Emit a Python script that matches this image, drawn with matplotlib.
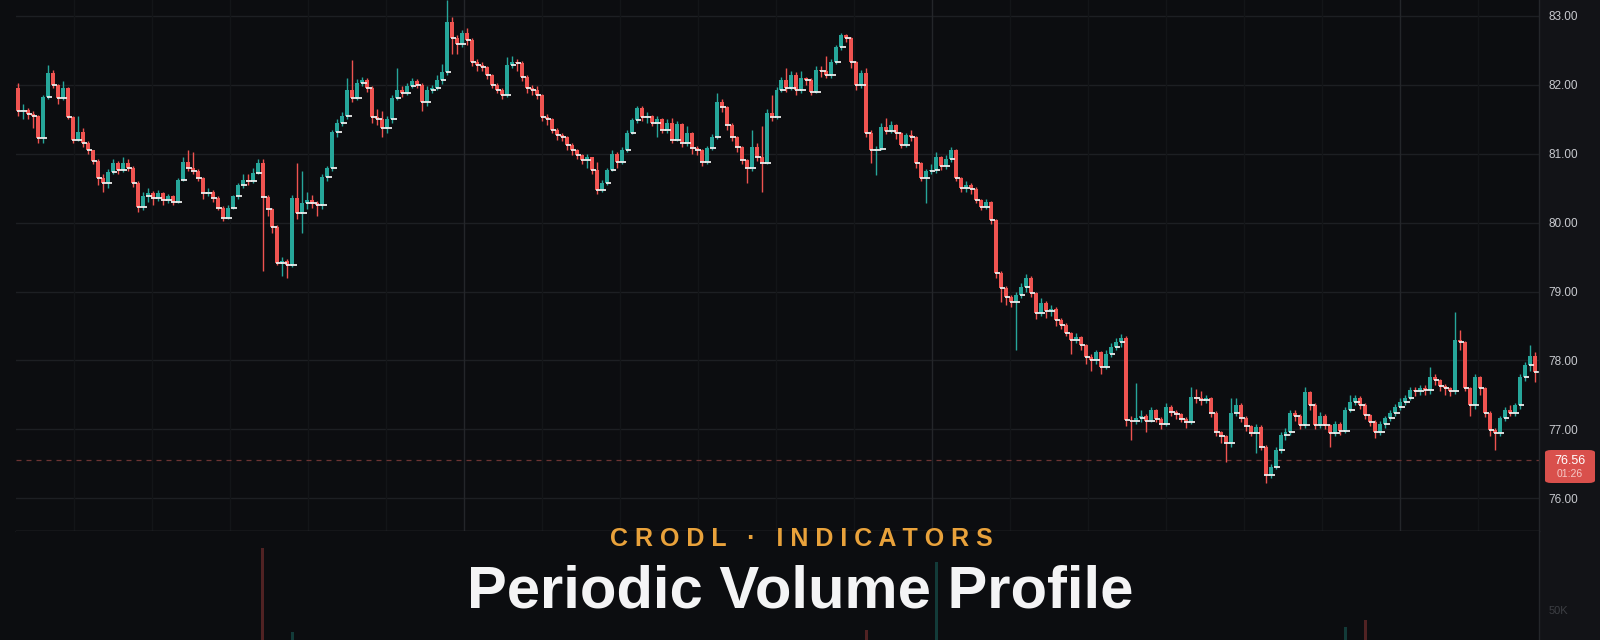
import numpy as np
import matplotlib.pyplot as plt
from matplotlib.patches import FancyBboxPatch, Rectangle
from matplotlib.lines import Line2D

plt.rcParams['font.family'] = ['Liberation Sans', 'DejaVu Sans']

# price data, open of each bar = previous close
first_open = 81.95
closes = [
    81.62, 81.64, 81.58, 81.55, 81.23, 81.83, 82.17, 82.00, 81.81, 81.95,
    81.53, 81.20, 81.32, 81.16, 81.05, 80.90, 80.65, 80.57, 80.74, 80.87,
    80.77, 80.87, 80.80, 80.57, 80.23, 80.38, 80.43, 80.36, 80.43, 80.33,
    80.38, 80.30, 80.62, 80.88, 80.80, 80.75, 80.65, 80.43, 80.45, 80.36,
    80.22, 80.07, 80.22, 80.38, 80.55, 80.62, 80.60, 80.72, 80.87, 80.37,
    80.20, 79.94, 79.42, 79.45, 79.38, 80.36, 80.14, 80.28, 80.33, 80.28,
    80.26, 80.66, 80.79, 81.32, 81.45, 81.55, 81.93, 81.81, 82.03, 82.07,
    81.95, 81.53, 81.50, 81.37, 81.50, 81.81, 81.93, 81.88, 81.99, 82.05,
    82.00, 81.75, 81.92, 81.95, 82.07, 82.19, 82.91, 82.68, 82.60, 82.75,
    82.65, 82.33, 82.29, 82.26, 82.14, 82.00, 81.93, 81.86, 82.29, 82.33,
    82.32, 82.12, 81.95, 81.93, 81.85, 81.53, 81.50, 81.35, 81.27, 81.24,
    81.13, 81.05, 80.98, 80.91, 80.95, 80.77, 80.48, 80.57, 80.77, 81.00,
    80.88, 81.05, 81.30, 81.49, 81.66, 81.53, 81.55, 81.45, 81.50, 81.35,
    81.45, 81.20, 81.43, 81.16, 81.30, 81.08, 81.05, 80.88, 81.08, 81.24,
    81.75, 81.68, 81.42, 81.24, 81.10, 80.91, 80.79, 81.10, 80.95, 80.87,
    81.59, 81.53, 81.93, 82.07, 81.95, 82.15, 81.93, 82.10, 82.07, 81.90,
    82.22, 82.20, 82.15, 82.33, 82.55, 82.72, 82.68, 82.33, 82.00, 82.17,
    81.30, 81.05, 81.07, 81.39, 81.33, 81.42, 81.30, 81.13, 81.27, 81.24,
    80.86, 80.65, 80.75, 80.77, 80.95, 80.82, 80.92, 81.05, 80.65, 80.50,
    80.55, 80.49, 80.33, 80.23, 80.30, 80.04, 79.27, 79.05, 78.92, 78.85,
    78.95, 79.07, 79.20, 78.98, 78.69, 78.84, 78.72, 78.75, 78.59, 78.52,
    78.40, 78.30, 78.34, 78.22, 78.05, 78.00, 78.12, 77.90, 78.10, 78.20,
    78.27, 78.33, 77.13, 77.12, 77.17, 77.20, 77.12, 77.28, 77.15, 77.08,
    77.33, 77.25, 77.22, 77.15, 77.10, 77.47, 77.45, 77.42, 77.45, 77.24,
    76.96, 76.90, 76.80, 77.24, 77.35, 77.17, 77.05, 76.95, 77.03, 76.75,
    76.34, 76.46, 76.70, 76.92, 76.96, 77.24, 77.20, 77.06, 77.54, 77.35,
    77.06, 77.20, 77.06, 76.95, 77.08, 76.98, 77.28, 77.40, 77.46, 77.36,
    77.21, 77.10, 76.96, 77.08, 77.17, 77.24, 77.33, 77.40, 77.46, 77.57,
    77.55, 77.60, 77.57, 77.76, 77.71, 77.63, 77.60, 77.56, 78.30, 78.27,
    77.60, 77.35, 77.76, 77.60, 77.24, 76.99, 76.95, 77.17, 77.28, 77.24,
    77.35, 77.76, 77.93, 78.06, 77.83,
]
highs = [
    82.03, 81.72, 81.66, 81.62, 81.56, 81.86, 82.29, 82.22, 82.02, 82.05,
    81.97, 81.55, 81.55, 81.38, 81.18, 81.05, 80.92, 80.70, 80.78, 80.92,
    80.90, 80.95, 80.92, 80.82, 80.60, 80.45, 80.50, 80.46, 80.48, 80.45,
    80.42, 80.40, 80.65, 80.95, 81.05, 81.02, 80.78, 80.66, 80.50, 80.47,
    80.38, 80.24, 80.25, 80.40, 80.58, 80.70, 80.70, 80.80, 80.93, 80.93,
    80.40, 80.22, 79.96, 79.50, 79.48, 80.40, 80.87, 80.75, 80.45, 80.40,
    80.32, 80.70, 80.82, 81.35, 81.50, 81.60, 82.10, 82.36, 82.08, 82.12,
    82.10, 81.98, 81.65, 81.62, 81.55, 81.85, 82.25, 81.98, 82.03, 82.10,
    82.08, 82.03, 81.98, 82.00, 82.15, 82.30, 83.23, 82.98, 82.72, 82.80,
    82.83, 82.68, 82.38, 82.33, 82.28, 82.16, 82.03, 81.95, 82.40, 82.42,
    82.38, 82.34, 82.15, 82.00, 81.98, 81.87, 81.58, 81.52, 81.38, 81.30,
    81.26, 81.15, 81.07, 81.00, 81.00, 80.96, 80.88, 80.62, 80.80, 81.05,
    81.03, 81.10, 81.35, 81.52, 81.70, 81.70, 81.60, 81.57, 81.55, 81.52,
    81.50, 81.52, 81.47, 81.45, 81.40, 81.32, 81.12, 81.07, 81.12, 81.28,
    81.88, 81.80, 81.70, 81.45, 81.26, 81.12, 80.93, 81.35, 81.15, 81.40,
    81.65, 81.85, 81.97, 82.12, 82.25, 82.20, 82.18, 82.20, 82.12, 82.10,
    82.28, 82.27, 82.42, 82.38, 82.58, 82.75, 82.74, 82.70, 82.35, 82.22,
    82.25, 81.35, 81.12, 81.45, 81.52, 81.48, 81.43, 81.32, 81.30, 81.35,
    81.26, 80.88, 80.78, 80.85, 81.02, 80.97, 80.98, 81.10, 81.07, 80.67,
    80.60, 80.57, 80.52, 80.35, 80.34, 80.32, 80.06, 79.30, 79.08, 78.95,
    79.00, 79.12, 79.25, 79.22, 79.00, 78.90, 78.86, 78.80, 78.77, 78.62,
    78.55, 78.42, 78.40, 78.36, 78.24, 78.10, 78.15, 78.14, 78.15, 78.25,
    78.32, 78.38, 78.35, 77.20, 77.67, 77.28, 77.22, 77.33, 77.30, 77.18,
    77.38, 77.35, 77.28, 77.24, 77.18, 77.62, 77.58, 77.55, 77.50, 77.47,
    77.26, 76.98, 76.92, 77.45, 77.45, 77.38, 77.20, 77.07, 77.08, 77.06,
    76.78, 76.50, 76.74, 76.96, 77.02, 77.28, 77.28, 77.22, 77.62, 77.56,
    77.38, 77.25, 77.23, 77.08, 77.12, 77.10, 77.32, 77.50, 77.50, 77.48,
    77.38, 77.23, 77.13, 77.12, 77.20, 77.28, 77.37, 77.45, 77.50, 77.62,
    77.62, 77.65, 77.64, 77.90, 77.80, 77.73, 77.66, 77.62, 78.70, 78.44,
    78.28, 77.62, 77.80, 77.78, 77.62, 77.26, 77.02, 77.20, 77.32, 77.35,
    77.38, 77.80, 77.98, 78.23, 78.12,
]
lows = [
    81.55, 81.50, 81.50, 81.38, 81.15, 81.15, 81.80, 81.95, 81.72, 81.78,
    81.50, 81.15, 81.18, 81.10, 81.00, 80.85, 80.55, 80.45, 80.50, 80.70,
    80.70, 80.73, 80.75, 80.52, 80.15, 80.18, 80.30, 80.25, 80.32, 80.25,
    80.28, 80.25, 80.28, 80.60, 80.75, 80.70, 80.60, 80.35, 80.38, 80.30,
    80.18, 80.02, 80.05, 80.20, 80.35, 80.50, 80.55, 80.58, 80.70, 79.30,
    80.10, 79.85, 79.38, 79.22, 79.20, 79.35, 80.05, 79.85, 80.20, 80.22,
    80.10, 80.20, 80.60, 80.75, 81.25, 81.40, 81.50, 81.75, 81.78, 81.98,
    81.90, 81.45, 81.42, 81.25, 81.30, 81.45, 81.78, 81.82, 81.85, 81.95,
    81.95, 81.62, 81.70, 81.88, 81.92, 82.02, 82.15, 82.45, 82.45, 82.55,
    82.58, 82.28, 82.20, 82.20, 82.08, 81.95, 81.88, 81.80, 81.82, 82.25,
    82.20, 82.05, 81.88, 81.85, 81.80, 81.48, 81.42, 81.30, 81.20, 81.18,
    81.05, 80.98, 80.93, 80.85, 80.80, 80.70, 80.42, 80.45, 80.55, 80.75,
    80.80, 80.85, 81.02, 81.28, 81.45, 81.48, 81.45, 81.40, 81.25, 81.30,
    81.30, 81.15, 81.18, 81.10, 81.12, 81.00, 80.98, 80.82, 80.85, 81.05,
    81.22, 81.60, 81.35, 81.18, 81.02, 80.85, 80.57, 80.75, 80.90, 80.44,
    80.85, 81.48, 81.50, 81.90, 81.90, 81.92, 81.85, 81.88, 82.00, 81.85,
    81.88, 82.12, 82.10, 82.10, 82.30, 82.50, 82.62, 82.25, 81.93, 81.95,
    81.25, 80.86, 80.69, 81.05, 81.28, 81.30, 81.22, 81.08, 81.10, 81.18,
    80.80, 80.60, 80.28, 80.70, 80.72, 80.76, 80.78, 80.88, 80.60, 80.45,
    80.45, 80.42, 80.28, 80.18, 80.20, 79.98, 79.20, 78.85, 78.80, 78.78,
    78.15, 78.90, 79.00, 78.92, 78.60, 78.65, 78.62, 78.65, 78.50, 78.45,
    78.35, 78.10, 78.25, 78.15, 77.95, 77.85, 77.95, 77.80, 77.88, 78.05,
    78.15, 78.20, 77.05, 76.85, 77.08, 77.10, 76.96, 77.10, 77.10, 77.00,
    77.05, 77.20, 77.15, 77.10, 77.02, 77.08, 77.38, 77.35, 77.38, 77.18,
    76.90, 76.80, 76.53, 76.75, 77.20, 77.10, 76.98, 76.90, 76.66, 76.70,
    76.22, 76.30, 76.42, 76.65, 76.85, 76.92, 77.12, 77.00, 77.02, 77.28,
    77.00, 77.02, 77.00, 76.75, 76.90, 76.92, 76.95, 77.25, 77.35, 77.30,
    77.15, 77.05, 76.87, 76.92, 77.02, 77.12, 77.20, 77.28, 77.35, 77.42,
    77.48, 77.50, 77.50, 77.52, 77.65, 77.55, 77.50, 77.48, 77.52, 78.15,
    77.55, 77.20, 77.30, 77.50, 77.18, 76.90, 76.70, 76.90, 77.12, 77.20,
    77.20, 77.30, 77.70, 77.85, 77.69,
]
price_ticks = [76, 77, 78, 79, 80, 81, 82, 83]
last_price = 76.56
last_price_label = '76.56'
countdown_label = '01:26'

# the few volume bars that show through at the bottom (thousands)
vol_idx = [49, 55, 170, 184, 266, 270]
vol_k = [153, 13, 17, 130, 22, 33]
vol_tick = 50
vol_tick_label = '50K'

subtitle = 'CRODL · INDICATORS'
title = 'Periodic Volume Profile'

UP = '#26a69a'
DOWN = '#ef5350'
BG = '#0c0d10'
PANEL = '#121317'

c = np.array(closes)
o = np.r_[first_open, c[:-1]]
hi = np.array(highs)
lo = np.array(lows)
x = np.arange(len(c))
colors = np.where(c >= o, UP, DOWN)

W, H = 1600, 640
left, right, split = 16, 1539, 531
fig = plt.figure(figsize=(W / 100, H / 100), dpi=100, facecolor=BG)
ax = fig.add_axes([left / W, (H - split) / H, (right - left) / W, split / H])
axv = fig.add_axes([left / W, 0, (right - left) / W, (H - split) / H])

# right-hand price scale panel
fig.patches.append(Rectangle((right / W, 0), 1 - right / W, 1, transform=fig.transFigure,
                             facecolor=PANEL, edgecolor='none', zorder=-1))
fig.add_artist(Line2D([right / W, right / W], [0, 1], color='#24262a', lw=1))

# price pane
ax.set_facecolor(BG)
ax.set_xlim(-0.4, 304.8)
ax.set_ylim(75.525, 83.232)
for p in price_ticks:
    ax.axhline(p, color='#1d1f23', lw=1, zorder=0)
px_per_bar = (1535 - 18) / 304
for k, gx in enumerate(range(74, 1539, 78)):
    strong = (k - 5) % 6 == 0
    ax.axvline((gx - 18) / px_per_bar, color='#24262a' if strong else '#131518', lw=1, zorder=0)

ax.vlines(x, lo, hi, colors=colors, lw=1, zorder=2)
ax.bar(x, np.maximum(np.abs(c - o), 0.012), bottom=np.minimum(o, c), width=0.8,
       color=colors, zorder=3)
ax.hlines(np.minimum(o, c), x - 0.25, x + 0.85, color='#ececec', lw=1.3, zorder=4)
ax.axhline(last_price, color='#6e3433', lw=0.9, ls=(0, (4, 4)), zorder=1)

ax.yaxis.tick_right()
ax.set_yticks(price_ticks)
ax.set_yticklabels([f'{p:.2f}' for p in price_ticks])
ax.tick_params(axis='y', length=0, pad=7, labelsize=8.5, labelcolor='#c8cacf')
ax.set_xticks([])
for s in ['top', 'left', 'right']:
    ax.spines[s].set_visible(False)
ax.spines['bottom'].set_color('#3b3d42')
ax.spines['bottom'].set_linewidth(1)

# last price tag
bx0, by0 = 1545 / W, (H - 483) / H
fig.patches.append(FancyBboxPatch((bx0, by0), 50 / W, 33 / H, boxstyle='round,pad=0,rounding_size=0.004',
                                  transform=fig.transFigure, facecolor='#d9504c', edgecolor='none'))
fig.text(1570 / W, (H - 461) / H, last_price_label, ha='center', va='center', fontsize=9,
         color='white')
fig.text(1570 / W, (H - 474) / H, countdown_label, ha='center', va='center', fontsize=7.5,
         color='#f6c9c6')

# volume pane
axv.set_facecolor(BG)
axv.set_xlim(-0.4, 304.8)
axv.set_ylim(0, 181.7)
axv.bar(vol_idx, vol_k, width=0.6, color=[colors[i] for i in vol_idx], alpha=0.3)
axv.yaxis.tick_right()
axv.set_yticks([vol_tick])
axv.set_yticklabels([vol_tick_label])
axv.tick_params(axis='y', length=0, pad=7, labelsize=8, labelcolor='#3c3e43')
axv.set_xticks([])
for s in axv.spines.values():
    s.set_visible(False)

# banner text
fig.text(801 / W, (H - 546) / H, ' '.join(subtitle), ha='center', va='baseline',
         fontsize=18, fontweight='bold', color='#e9a23b', zorder=10)
fig.text(800 / W, (H - 608) / H, title, ha='center', va='baseline',
         fontsize=43, fontweight='bold', color='#f4f4f5', zorder=10)

fig.savefig('out.png', dpi=100, facecolor=BG)
